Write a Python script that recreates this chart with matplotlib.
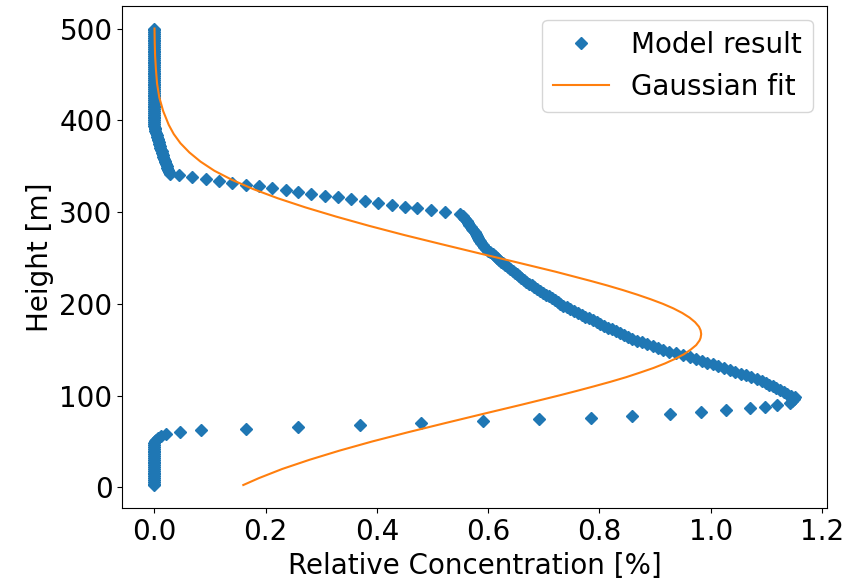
import numpy as np
import matplotlib
matplotlib.use("Agg")
import matplotlib.pyplot as plt

# ---- model result: concentration on a 2 m height grid ----
height = np.arange(2, 501, 2)

conc_ground = [0.0] * 24                      # 2 .. 48 m
conc_lower_jump = [0.001, 0.003, 0.007, 0.012, 0.021, 0.046, 0.084, 0.164,
                   0.259, 0.369, 0.480, 0.591, 0.691, 0.785, 0.858, 0.927,
                   0.983, 1.027, 1.071, 1.097, 1.119, 1.143]          # 50 .. 92 m
conc_band = [1.146, 1.150, 1.151,
             1.145, 1.138, 1.131, 1.125, 1.118, 1.112, 1.105, 1.099, 1.093, 1.083,
             1.073, 1.063, 1.054, 1.044, 1.034, 1.024, 1.014, 1.004, 0.994, 0.984,
             0.974, 0.962, 0.950, 0.938, 0.926, 0.914, 0.905, 0.896, 0.886, 0.877,
             0.868, 0.859, 0.851, 0.844, 0.837, 0.830, 0.823, 0.816, 0.809, 0.802,
             0.795, 0.788, 0.782, 0.775, 0.768, 0.762, 0.755, 0.748, 0.742, 0.735,
             0.730, 0.725, 0.720, 0.714, 0.709, 0.704, 0.699, 0.694, 0.688, 0.683,
             0.678, 0.673, 0.669, 0.665, 0.660, 0.656, 0.652, 0.648, 0.644, 0.639,
             0.635, 0.631, 0.627, 0.623, 0.619, 0.616, 0.612, 0.608, 0.604, 0.600,
             0.597, 0.593, 0.590, 0.588, 0.586, 0.584, 0.582, 0.580, 0.578, 0.576,
             0.573, 0.571, 0.569, 0.566, 0.564, 0.562, 0.559, 0.557, 0.554, 0.549]  # 94 .. 298 m
conc_upper_jump = [0.522, 0.497, 0.473, 0.451, 0.427, 0.402, 0.379, 0.354,
                   0.331, 0.307, 0.282, 0.259, 0.236, 0.212, 0.188, 0.164,
                   0.140, 0.116, 0.093, 0.068, 0.045, 0.028]          # 300 .. 342 m
conc_upper_tail = [0.026, 0.024, 0.023, 0.022, 0.021, 0.020, 0.019, 0.018,
                   0.016, 0.015, 0.014, 0.013, 0.012, 0.011, 0.010, 0.009,
                   0.008, 0.007, 0.006, 0.005, 0.004, 0.003, 0.002, 0.001,
                   0.0005]                                            # 344 .. 392 m
conc_top = [0.0] * 54                         # 394 .. 500 m

conc = np.array(conc_ground + conc_lower_jump + conc_band
                + conc_upper_jump + conc_upper_tail + conc_top)

# ---- gaussian fit ----
fit_height = [2.5, 10, 20, 30, 40, 50, 60, 70, 80, 90, 100, 105, 110, 115,
              120, 125, 130, 135, 140, 145, 150, 155, 160, 163, 167, 171, 175,
              180, 185, 190, 195, 200, 205, 210, 215, 220, 225, 235, 245, 255,
              265, 275, 285, 295, 305, 315, 325, 335, 345, 355, 365, 375, 385,
              395, 410, 425, 440, 455, 470, 485, 500]
fit_conc = [0.160, 0.188, 0.230, 0.279, 0.333, 0.392, 0.456, 0.523, 0.591,
            0.660, 0.727, 0.759, 0.790, 0.820, 0.848, 0.873, 0.897, 0.918,
            0.936, 0.952, 0.964, 0.974, 0.980, 0.982, 0.983, 0.982, 0.979,
            0.972, 0.962, 0.949, 0.933, 0.914, 0.892, 0.868, 0.842, 0.814,
            0.784, 0.721, 0.653, 0.584, 0.516, 0.449, 0.386, 0.327, 0.272,
            0.222, 0.178, 0.140, 0.108, 0.083, 0.063, 0.047, 0.035, 0.026,
            0.016, 0.009, 0.005, 0.003, 0.0015, 0.0008, 0.0004]

plt.rcParams['font.size'] = 20

fig = plt.figure(figsize=(8.58, 5.81), dpi=100)
ax = fig.add_axes([0.1425, 0.1251, 0.821, 0.8651])

ax.plot(conc, height, 'D', color='C0', label='Model result')
ax.plot(fit_conc, fit_height, '-', color='C1', label='Gaussian fit')

ax.set_xlabel('Relative Concentration [%]')
ax.set_ylabel('Height [m]')
ax.legend(loc='upper right')

fig.savefig('out.png', dpi=100)
plt.close(fig)
